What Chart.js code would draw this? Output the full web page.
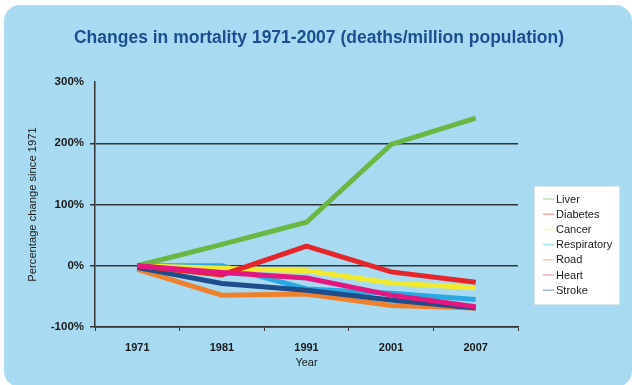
<!DOCTYPE html>
<html>
<head>
<meta charset="utf-8">
<script src="https://cdn.jsdelivr.net/npm/chart.js@4/dist/chart.umd.min.js"></script>
<style>
  html, body { margin: 0; padding: 0; background: #fff; }
  #wrap { width: 632px; height: 385px; position: relative; }
</style>
</head>
<body>
<div id="wrap"><canvas id="view-canvas" width="632" height="385"></canvas></div>
<script>
var canvas = document.getElementById('view-canvas');

// data (% change since 1971)
var years = ['1971', '1981', '1991', '2001', '2007'];
var liver = [0, 35, 71, 198, 241];
var diabetes = [0, -15, 32, -10, -27];
var cancer = [0, -4, -8, -28, -36];
var respiratory = [0, 0, -38, -45, -55];
var road = [-6, -48, -46, -65, -69];
var heart = [0, -11, -20, -48, -67];
var stroke = [-3, -29, -40, -56, -69];
var yTicks = [-100, 0, 100, 200, 300];
var titleText = 'Changes in mortality 1971-2007 (deaths/million population)';

var FONT = '"Liberation Sans", Arial, Helvetica, sans-serif';

function series(label, data, color, order) {
    return {
        label: label,
        data: data,
        borderColor: color,
        backgroundColor: color,
        borderWidth: 5,
        pointRadius: 0,
        tension: 0,
        order: order
    };
}

// panel background with rounded corners + centred title
var panelPlugin = {
    id: 'panel',
    beforeDraw: function (chart) {
        var c = chart.ctx;
        c.save();
        c.fillStyle = '#ffffff';
        c.fillRect(0, 0, chart.width, chart.height);
        c.fillStyle = '#a8dbf2';
        c.beginPath();
        c.roundRect(4, 5, 628, 382, 16);
        c.fill();
        c.fillStyle = '#1b4f8f';
        c.font = 'bold 17.5px ' + FONT;
        c.textAlign = 'center';
        c.textBaseline = 'middle';
        c.fillText(titleText, 319, 38);
        c.restore();
    }
};

// white legend box at the right
var legendPlugin = {
    id: 'boxLegend',
    afterDraw: function (chart) {
        var c = chart.ctx;
        var x = 534, y = 186, w = 86, h = 119;
        c.save();
        c.fillStyle = '#ffffff';
        c.fillRect(x, y, w, h);
        c.strokeStyle = '#d8e6ee';
        c.lineWidth = 1;
        c.strokeRect(x + 0.5, y + 0.5, w - 1, h - 1);
        c.font = '11px ' + FONT;
        c.textBaseline = 'middle';
        chart.data.datasets.forEach(function (ds, i) {
            var ry = 199 + i * 15.2;
            c.globalAlpha = 0.4;
            c.strokeStyle = ds.borderColor;
            c.lineWidth = 1.5;
            c.beginPath();
            c.moveTo(543, ry);
            c.lineTo(554, ry);
            c.stroke();
            c.globalAlpha = 1;
            c.fillStyle = '#1a1a1a';
            c.fillText(ds.label, 556, ry + 0.5);
        });
        c.restore();
    }
};

function rendererMain() {
    const data = {
        labels: years,
        datasets: [
            series('Liver', liver, '#68b843', 2),
            series('Diabetes', diabetes, '#e6262b', 1),
            series('Cancer', cancer, '#f2ea2c', 4),
            series('Respiratory', respiratory, '#29a9e1', 5),
            series('Road', road, '#f0812c', 6),
            series('Heart', heart, '#e3177f', 0),
            series('Stroke', stroke, '#1f4d8c', 3)
        ]
    };

    const config = {
        type: 'line',
        data,
        plugins: [panelPlugin, legendPlugin],
        options: {
            responsive: false,
            animation: false,
            layout: { padding: { left: 26, right: 114, top: 82, bottom: 15 } },
            scales: {
                x: {
                    offset: true,
                    afterFit: function (s) { s.height = 43; },
                    grid: {
                        offset: true,
                        drawOnChartArea: false,
                        color: '#333',
                        tickLength: 4
                    },
                    border: { color: '#333', width: 1.5 },
                    ticks: { color: '#1a1a1a', font: { family: FONT, size: 11, weight: 'bold' }, padding: 10 },
                    title: { display: true, text: 'Year', color: '#1a1a1a', font: { family: FONT, size: 11 }, padding: { top: 0, bottom: 0 } }
                },
                y: {
                    min: -100,
                    max: 300,
                    afterFit: function (s) { s.width = 69; },
                    afterBuildTicks: function (s) { s.ticks = yTicks.map(function (v) { return { value: v }; }); },
                    grid: {
                        color: function (ctx) {
                            return ctx.tick && ctx.tick.value === 300 ? 'rgba(0,0,0,0)' : '#333';
                        },
                        lineWidth: 1.5,
                        tickLength: 5
                    },
                    border: { color: '#333', width: 1.5 },
                    ticks: {
                        color: '#1a1a1a',
                        font: { family: FONT, size: 11.5, weight: 'bold' },
                        padding: 6,
                        callback: function (v) { return v + '%'; }
                    },
                    title: { display: true, text: 'Percentage change since 1971', color: '#1a1a1a', font: { family: FONT, size: 11.2 }, padding: { top: 0, bottom: 0 } }
                }
            },
            plugins: {
                legend: { display: false },
                tooltip: { enabled: false },
                title: { display: false }
            }
        }
    };
    new Chart(canvas, config);
}

rendererMain();
</script>
</body>
</html>
